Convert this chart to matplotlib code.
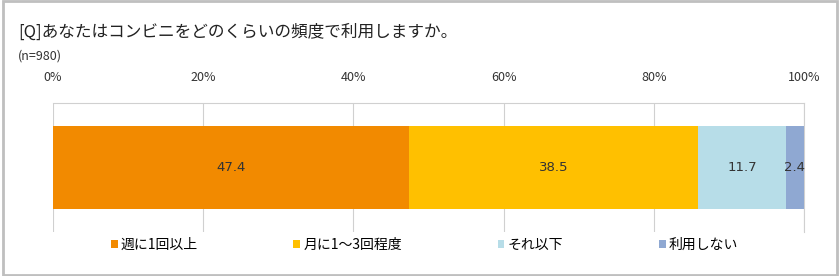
import matplotlib.pyplot as plt
from matplotlib.patches import Rectangle

plt.rcParams['font.family'] = ['Noto Sans CJK JP', 'DejaVu Sans']

# Data
categories = ['週に1回以上', '月に1～3回程度', 'それ以下', '利用しない']
values = [47.4, 38.5, 11.7, 2.4]
colors = ['#F28A00', '#FFC000', '#B7DDE8', '#8FA8D2']
ticks = [0, 20, 40, 60, 80, 100]
tick_labels = ['0%', '20%', '40%', '60%', '80%', '100%']

fig = plt.figure(figsize=(8.4, 2.76), dpi=100)
# outer frame
fig.patches.append(Rectangle((0.003, 0.005), 0.994, 0.99, transform=fig.transFigure,
                             fill=False, edgecolor='#BFBFBF', linewidth=2))

fig.text(18 / 840, 1 - 32 / 276, '[Q]あなたはコンビニをどのくらいの頻度で利用しますか。',
         fontsize=12, va='center', ha='left', color='#222222')
fig.text(18 / 840, 1 - 56 / 276, '(n=980)', fontsize=9, va='center', ha='left', color='#333333')

ax = fig.add_axes([53 / 840, 1 - 232 / 276, (804 - 53) / 840, (232 - 103) / 276])

left = 0
for cat, v, c in zip(categories, values, colors):
    ax.barh(0, v, left=left, height=0.64, color=c, label=cat, zorder=3)
    ax.text(left + v / 2, 0, f'{v}', ha='center', va='center', fontsize=9.5,
            color='#333333', zorder=4, family='DejaVu Sans')
    left += v

ax.set_xlim(0, 100)
ax.set_ylim(-0.5, 0.5)
ax.xaxis.tick_top()
ax.set_xticks(ticks)
ax.set_xticklabels(tick_labels, fontsize=9, color='#333333')
ax.tick_params(axis='x', length=0, pad=14)
ax.set_yticks([])
ax.grid(axis='x', color='#D0D0D0', linewidth=0.8, zorder=0)
for s in ax.spines.values():
    s.set_color('#D0D0D0')
ax.spines['left'].set_visible(False)
ax.spines['bottom'].set_visible(False)

fig.legend(loc='center', bbox_to_anchor=(0.505, 1 - 245 / 276), ncol=4, frameon=False,
           fontsize=10, handlelength=0.5, handleheight=0.5, handletextpad=0.2,
           columnspacing=6.9)

fig.savefig('out.png', dpi=100)
